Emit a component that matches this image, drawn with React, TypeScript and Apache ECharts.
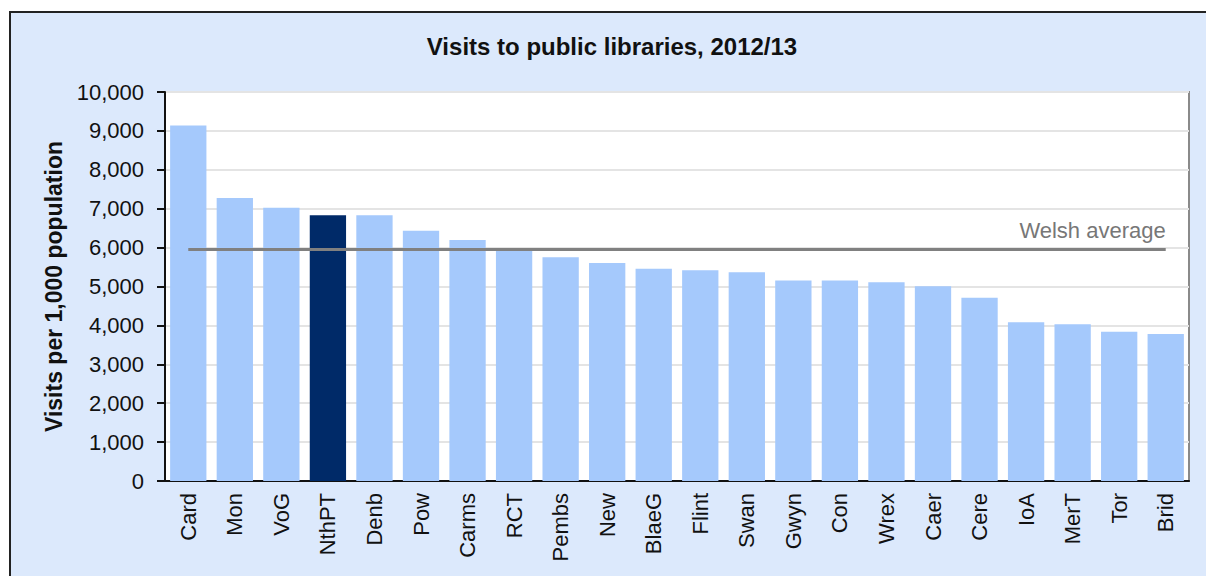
import React, { useEffect, useRef } from "react";
import * as echarts from "echarts";

const categories = ["Card", "Mon", "VoG", "NthPT", "Denb", "Pow", "Carms", "RCT", "Pembs", "New", "BlaeG", "Flint", "Swan", "Gwyn", "Con", "Wrex", "Caer", "Cere", "IoA", "MerT", "Tor", "Brid"];
const visits = [9140, 7275, 7025, 6830, 6830, 6435, 6195, 5930, 5750, 5605, 5458, 5416, 5365, 5155, 5155, 5108, 5004, 4713, 4079, 4028, 3839, 3779];
const highlighted = "NthPT";
const welshAverage = 5955;
const titleText = "Visits to public libraries, 2012/13";
const yAxisTitle = "Visits per 1,000 population";
const averageLabel = "Welsh average";

const FONT = "'Liberation Sans', Arial, sans-serif";

export default function App() {
  const ref = useRef<HTMLDivElement>(null);
  useEffect(() => {
    if (!ref.current) return;
    const chart = echarts.init(ref.current, null, { renderer: "svg" });
    chart.setOption({
      animation: false,
      backgroundColor: "transparent",
      textStyle: { fontFamily: FONT },
      graphic: [
        {
          type: "text",
          x: 612,
          y: 46,
          style: {
            text: titleText,
            fontFamily: FONT,
            fontSize: 24,
            fontWeight: "bold",
            fill: "#111",
            textAlign: "center",
            textVerticalAlign: "middle",
          },
        },
      ],
      grid: {
        left: 165,
        top: 92,
        right: 17,
        bottom: 95,
        show: true,
        backgroundColor: "#ffffff",
        borderColor: "#8a8a8a",
        borderWidth: 2,
      },
      xAxis: {
        type: "category",
        data: categories,
        axisLine: { lineStyle: { color: "#111", width: 2 } },
        axisTick: { show: false },
        axisLabel: {
          rotate: 90,
          fontSize: 22,
          color: "#111",
          fontFamily: FONT,
          margin: 12,
          interval: 0,
        },
      },
      yAxis: {
        type: "value",
        min: 0,
        max: 10000,
        interval: 1000,
        name: yAxisTitle,
        nameLocation: "middle",
        nameRotate: 90,
        nameGap: 100,
        nameTextStyle: { fontSize: 23, fontWeight: "bold", color: "#111", fontFamily: FONT },
        axisLine: { show: true, lineStyle: { color: "#111", width: 2 } },
        axisTick: { show: true, length: 8, lineStyle: { color: "#111", width: 2 } },
        axisLabel: {
          fontSize: 22,
          color: "#111",
          fontFamily: FONT,
          margin: 21,
          formatter: (v: number) => v.toLocaleString("en-US"),
        },
        splitLine: { lineStyle: { color: "#e4e4e4", width: 2 } },
      },
      series: [
        {
          type: "bar",
          barCategoryGap: "22%",
          data: categories.map((c, i) => ({
            value: visits[i],
            itemStyle: { color: c === highlighted ? "#002a68" : "#a5c9fc" },
          })),
          markLine: {
            silent: true,
            symbol: "none",
            lineStyle: { color: "#808080", width: 3, type: "solid" },
            label: {
              show: true,
              position: "insideEndTop",
              formatter: averageLabel,
              color: "#777",
              fontSize: 22,
              fontFamily: FONT,
              distance: [0, 8],
            },
            data: [
              [
                { coord: [categories[0], welshAverage] },
                { coord: [categories[categories.length - 1], welshAverage] },
              ],
            ],
          },
        },
      ],
    });
    return () => chart.dispose();
  }, []);

  return (
    <div style={{ position: "fixed", left: 0, top: 0, width: 1206, height: 576, overflow: "hidden", background: "#ffffff" }}>
      <div
        style={{
          position: "absolute",
          left: 9,
          top: 11,
          width: 1300,
          height: 700,
          background: "#dce9fc",
          border: "2px solid #222",
          boxSizing: "border-box",
        }}
      />
      <div ref={ref} style={{ position: "absolute", left: 0, top: 0, width: 1206, height: 576 }} />
    </div>
  );
}
